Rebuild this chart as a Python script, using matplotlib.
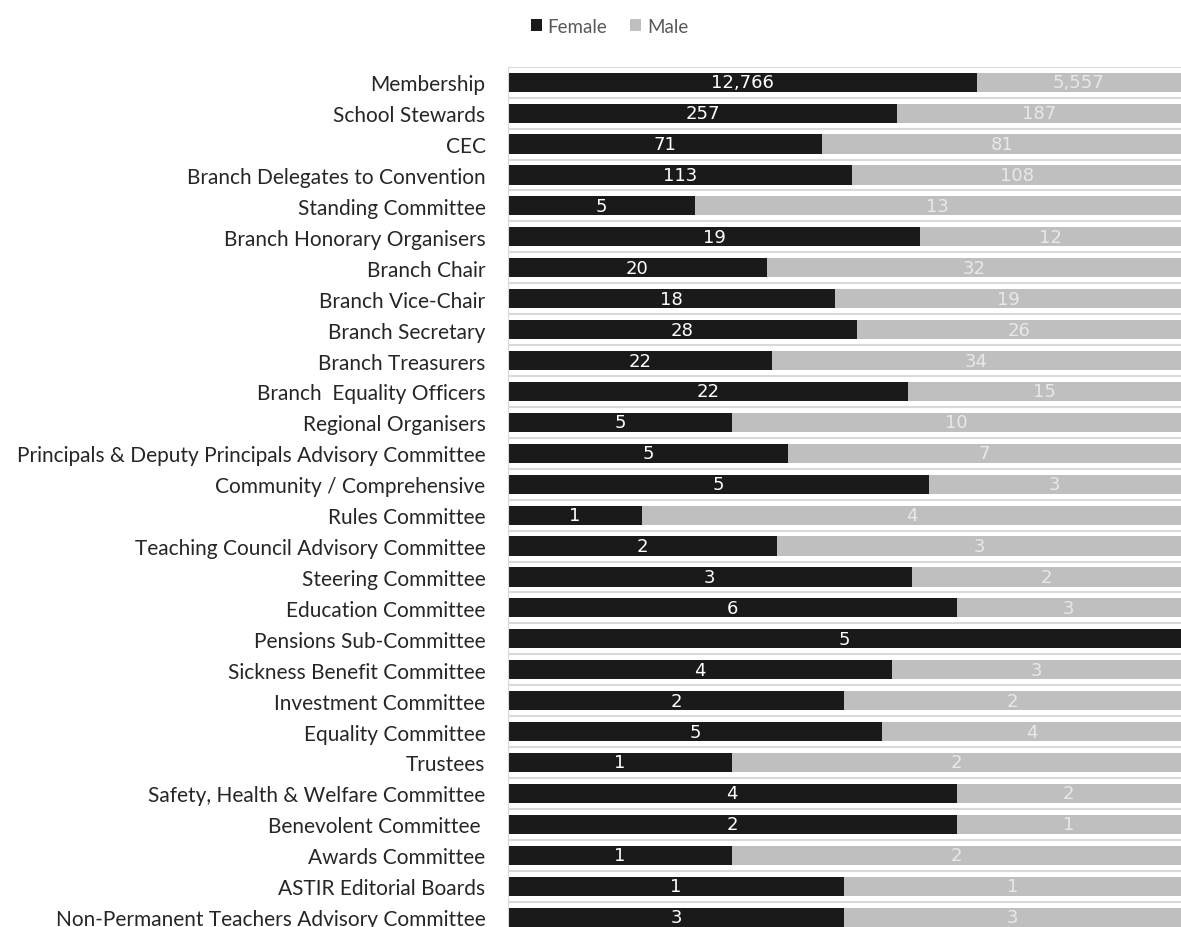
import numpy as np
import matplotlib
matplotlib.use("Agg")
import matplotlib.pyplot as plt

# data
categories = [
    "Membership", "School Stewards", "CEC", "Branch Delegates to Convention",
    "Standing Committee", "Branch Honorary Organisers", "Branch Chair",
    "Branch Vice-Chair", "Branch Secretary", "Branch Treasurers",
    "Branch  Equality Officers", "Regional Organisers",
    "Principals & Deputy Principals Advisory Committee",
    "Community / Comprehensive", "Rules Committee",
    "Teaching Council Advisory Committee", "Steering Committee",
    "Education Committee", "Pensions Sub-Committee",
    "Sickness Benefit Committee", "Investment Committee",
    "Equality Committee", "Trustees", "Safety, Health & Welfare Committee",
    "Benevolent Committee ", "Awards Committee", "ASTIR Editorial Boards",
    "Non-Permanent Teachers Advisory Committee",
]
female = [12766, 257, 71, 113, 5, 19, 20, 18, 28, 22, 22, 5, 5, 5, 1, 2, 3, 6,
          5, 4, 2, 5, 1, 4, 2, 1, 1, 3]
male = [5557, 187, 81, 108, 13, 12, 32, 19, 26, 34, 15, 10, 7, 3, 4, 3, 2, 3,
        0, 3, 2, 4, 2, 2, 1, 2, 1, 3]

female = np.array(female, dtype=float)
male = np.array(male, dtype=float)
total = female + male
f_share = female / total
m_share = male / total

plt.rcParams['font.family'] = ['Lato', 'DejaVu Sans']

fig = plt.figure(figsize=(11.81, 9.28), dpi=100)
ax = fig.add_axes([0.430, -0.006, 0.570, 0.933])

y = np.arange(len(categories))
bh = 0.62
ax.barh(y, f_share, height=bh, color='#1a1a1a', label='Female')
ax.barh(y, m_share, left=f_share, height=bh, color='#bfbfbf', label='Male')

# light separators between rows
for b in np.arange(-0.5, len(categories), 1.0):
    ax.axhline(b, color='#d9d9d9', lw=1.5, zorder=0)

lab_font = ['Liberation Sans Narrow', 'DejaVu Sans']
for i in range(len(categories)):
    if female[i] > 0:
        ax.text(f_share[i] / 2, y[i], f"{int(female[i]):,}", ha='center',
                va='center', color='white', fontsize=13, family=lab_font)
    if male[i] > 0:
        ax.text(f_share[i] + m_share[i] / 2, y[i], f"{int(male[i]):,}",
                ha='center', va='center', color='#e8e8e8', fontsize=13,
                family=lab_font)

ax.set_xlim(0, 1)
ax.set_ylim(len(categories) - 0.5, -0.5)
ax.set_yticks(y)
ax.set_yticklabels(categories, fontsize=15, color='#262626')
ax.tick_params(axis='y', length=0, pad=16)
ax.set_xticks([])
for s in ['top', 'right', 'bottom']:
    ax.spines[s].set_visible(False)
ax.spines['left'].set_color('#d9d9d9')

fig.legend(loc='upper center', bbox_to_anchor=(0.516, 0.998), ncol=2,
           frameon=False, fontsize=13.5, handlelength=0.6, handleheight=0.6,
           handletextpad=0.3, columnspacing=1.2, labelcolor='#595959')

plt.savefig('out.png', dpi=100)
